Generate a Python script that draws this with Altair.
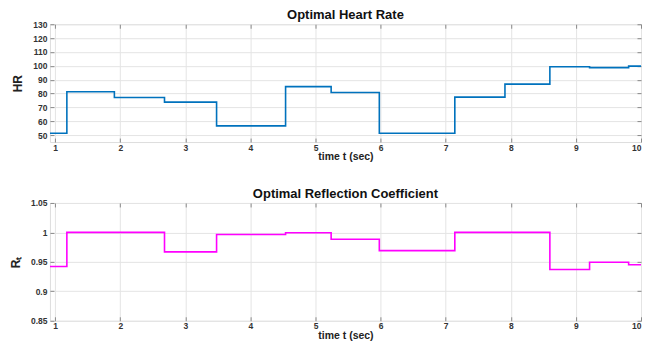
import altair as alt
import pandas as pd

# step breakpoints (time in seconds)
times = [0.92, 1.18, 1.91, 2.68, 3.48, 4.54, 5.24, 5.98, 7.14, 7.91, 8.60, 9.21, 9.81, 10.0]
# optimal heart rate levels starting at each breakpoint
hr = [51.3, 81.3, 77.1, 73.8, 56.7, 85.0, 80.7, 51.3, 77.4, 86.8, 99.3, 98.7, 99.8, 99.8]
# optimal reflection coefficient levels starting at each breakpoint
rt = [0.942, 1.0, 1.0, 0.967, 0.9965, 0.9995, 0.9885, 0.969, 1.0, 1.0, 0.937, 0.9493, 0.945, 0.945]

x_ticks = [1, 2, 3, 4, 5, 6, 7, 8, 9, 10]
hr_ticks = [50, 60, 70, 80, 90, 100, 110, 120, 130]
rt_ticks = [0.85, 0.9, 0.95, 1.0, 1.05]

df = pd.DataFrame({"t": times, "hr": hr, "rt": rt})

FONT = "Liberation Sans"
W, H = 592, 118
FRAME = "#8a8a8a"
GRID = "#e4e4e4"


def xaxis(labels=True, orient="bottom", title=None, grid=True):
    kw = dict(values=x_ticks, orient=orient, offset=-4, tickSize=4, tickColor=FRAME,
              domain=False, grid=grid, gridColor=GRID, labels=labels,
              labelFont=FONT, labelFontWeight="bold", labelFontSize=8.5, labelColor="#333",
              labelPadding=1, labelFlush=1, labelFlushOffset=0,
              labelExpr="format(datum.value, 'd')",
              titleFont=FONT, titleFontWeight="bold", titleFontSize=10.5, titleColor="#222",
              titlePadding=0)
    kw["title"] = title if title is not None else None
    return alt.Axis(**kw)


def yaxis(values, labels=True, orient="left", title=None, grid=True, fmt=None):
    kw = dict(values=values, orient=orient, offset=-4, tickSize=4, tickColor=FRAME,
              domain=False, grid=grid, gridColor=GRID, labels=labels,
              labelFont=FONT, labelFontWeight="bold", labelFontSize=8.5, labelColor="#333",
              labelPadding=3,
              titleFont=FONT, titleFontWeight="bold", titleFontSize=12, titleColor="#222",
              titlePadding=8)
    kw["title"] = title if title is not None else None
    if fmt:
        kw["labelExpr"] = fmt
    return alt.Axis(**kw)


def panel(field, color, ydom, yvals, ytitle, title, fmt=None):
    base = alt.Chart(df)
    xs = alt.Scale(domain=[0.92, 10], nice=False, zero=False)
    ys = alt.Scale(domain=ydom, nice=False, zero=False)
    main = base.mark_line(interpolate="step-after", color=color, strokeWidth=1.6, clip=True).encode(
        x=alt.X("t:Q", scale=xs, axis=xaxis(title="time t (sec)")),
        y=alt.Y(f"{field}:Q", scale=ys, axis=yaxis(yvals, title=ytitle, fmt=fmt)),
    )
    mirror = base.mark_line(opacity=0).encode(
        x=alt.X("t:Q", scale=xs, axis=xaxis(labels=False, orient="top", grid=False)),
        y=alt.Y(f"{field}:Q", scale=ys, axis=yaxis(yvals, labels=False, orient="right", grid=False)),
    )
    return alt.layer(main, mirror).resolve_axis(x="independent", y="independent").properties(
        width=W, height=H,
        title=alt.TitleParams(title, font=FONT, fontSize=13, fontWeight="bold", color="#111",
                              offset=-2, anchor="middle"),
    )


top = panel("hr", "#0072BD", [45, 130], hr_ticks, "HR", "Optimal Heart Rate")
bottom = panel("rt", "#FF00FF", [0.85, 1.05], rt_ticks, "Rₜ", "Optimal Reflection Coefficient",
               fmt="datum.value == 1 ? '1' : format(datum.value, '.2~f')")

chart = alt.vconcat(top, bottom, spacing=24).properties(
    padding={"left": 0, "top": 0, "right": 0, "bottom": 0}
).configure_view(stroke=FRAME, strokeWidth=1.2).configure(background="white")

chart.save("out.html", embed_options={"renderer": "svg", "actions": False})
